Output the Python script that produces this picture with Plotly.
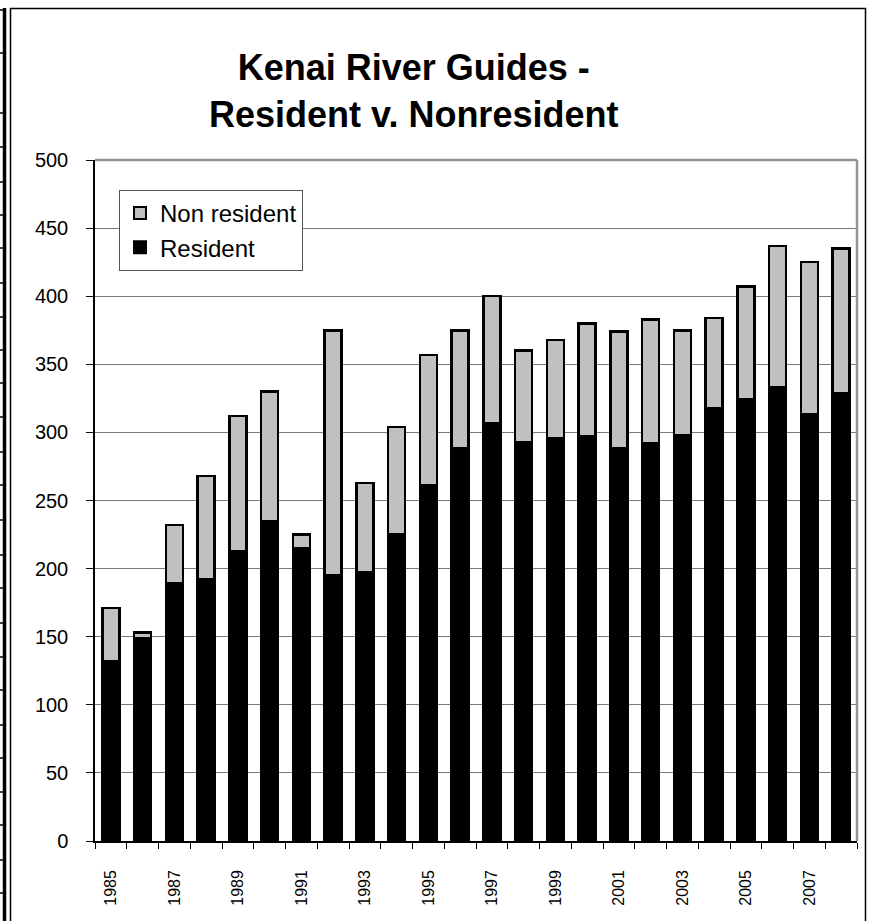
import plotly.graph_objects as go

years = [1985, 1986, 1987, 1988, 1989, 1990, 1991, 1992, 1993, 1994, 1995, 1996,
         1997, 1998, 1999, 2000, 2001, 2002, 2003, 2004, 2005, 2006, 2007, 2008]
resident = [132, 149, 189, 192, 213, 235, 215, 195, 197, 225, 261, 288,
            307, 293, 296, 297, 288, 292, 298, 318, 324, 333, 313, 329]
non_resident = [39, 4, 43, 76, 99, 95, 10, 180, 66, 79, 96, 87,
                93, 67, 72, 83, 86, 91, 77, 66, 83, 104, 112, 106]
label_years = [y for y in years if y % 2 == 1]
y_ticks = [0, 50, 100, 150, 200, 250, 300, 350, 400, 450, 500]

W, H = 870, 921
ML, MR, MT, MB = 95, 13, 160, 80
PW, PH = W - ML - MR, H - MT - MB
FONT = "Liberation Sans, Arial, sans-serif"


def px(x):
    return (x - ML) / PW


def py(y):
    return (H - MB - y) / PH


fig = go.Figure()
fig.add_trace(go.Bar(
    x=years, y=resident, name="Resident",
    marker=dict(color="black", line=dict(color="black", width=2.5)),
))
fig.add_trace(go.Bar(
    x=years, y=non_resident, name="Non resident",
    marker=dict(color="#C0C0C0", line=dict(color="black", width=2.5)),
))

shapes = []
# outer chart frame
shapes.append(dict(type="rect", xref="paper", yref="paper",
                   x0=px(10.5), x1=px(865.5), y0=py(930), y1=py(8.5),
                   line=dict(color="black", width=1.5), layer="below"))
# spreadsheet border strip at the left
shapes.append(dict(type="line", xref="paper", yref="paper",
                   x0=px(4.5), x1=px(4.5), y0=py(930), y1=py(8),
                   line=dict(color="black", width=3.5)))
for yy in [10, 53, 113, 147, 182, 215, 248, 283, 317, 350, 383, 417, 452, 485,
           520, 555, 588, 623, 657, 690, 725, 758, 792, 825, 860, 893]:
    shapes.append(dict(type="line", xref="paper", yref="paper",
                       x0=px(0), x1=px(4), y0=py(yy), y1=py(yy),
                       line=dict(color="black", width=1.5)))
# plot-area border: gray top and right
shapes.append(dict(type="line", xref="paper", yref="paper",
                   x0=0, x1=1, y0=1, y1=1, line=dict(color="#939393", width=2.5)))
shapes.append(dict(type="line", xref="paper", yref="paper",
                   x0=1, x1=1, y0=0, y1=1, line=dict(color="#939393", width=2.5)))

fig.update_layout(
    width=W, height=H,
    margin=dict(l=ML, r=MR, t=MT, b=MB, pad=0, autoexpand=False),
    paper_bgcolor="white", plot_bgcolor="white",
    barmode="stack", bargap=0.46,
    font=dict(family=FONT, color="black"),
    showlegend=True,
    legend=dict(
        x=px(119), y=py(190), xanchor="left", yanchor="top",
        traceorder="reversed",
        bgcolor="white", bordercolor="#555555", borderwidth=1,
        font=dict(family=FONT, size=24, color="black"),
        itemsizing="constant", tracegroupgap=0,
        itemwidth=30,
    ),
    shapes=shapes,
    annotations=[dict(
        text="<b>Kenai River Guides -<br>Resident v. Nonresident</b>",
        xref="paper", yref="paper", x=px(413), y=py(91),
        xanchor="center", yanchor="middle", showarrow=False,
        font=dict(family=FONT, size=36, color="black"),
    )],
    xaxis=dict(
        range=[years[0] - 0.5, years[-1] + 0.5],
        automargin=False,
        tickmode="array", tickvals=label_years,
        ticktext=[str(y) for y in label_years],
        tickangle=-90, ticks="", ticklabelstandoff=21,
        tickfont=dict(family=FONT, size=16, color="black"),
        showgrid=False, zeroline=False,
        showline=True, linecolor="black", linewidth=1.5,
        minor=dict(tickvals=[y - 0.5 for y in years] + [years[-1] + 0.5],
                   ticks="outside", ticklen=6, tickcolor="black", tickwidth=1,
                   showgrid=False),
    ),
    yaxis=dict(
        range=[0, 500], tickmode="array", tickvals=y_ticks,
        automargin=False,
        ticks="outside", ticklen=7, tickcolor="black", tickwidth=1,
        ticklabelstandoff=14,
        tickfont=dict(family=FONT, size=20, color="black"),
        showgrid=True, gridcolor="#7a7a7a", gridwidth=1,
        zeroline=False,
        showline=True, linecolor="black", linewidth=1.5,
    ),
)

fig.write_html("out.html", config={"displayModeBar": False},
               post_script="document.body.style.margin='0';document.body.style.overflow='hidden';")
